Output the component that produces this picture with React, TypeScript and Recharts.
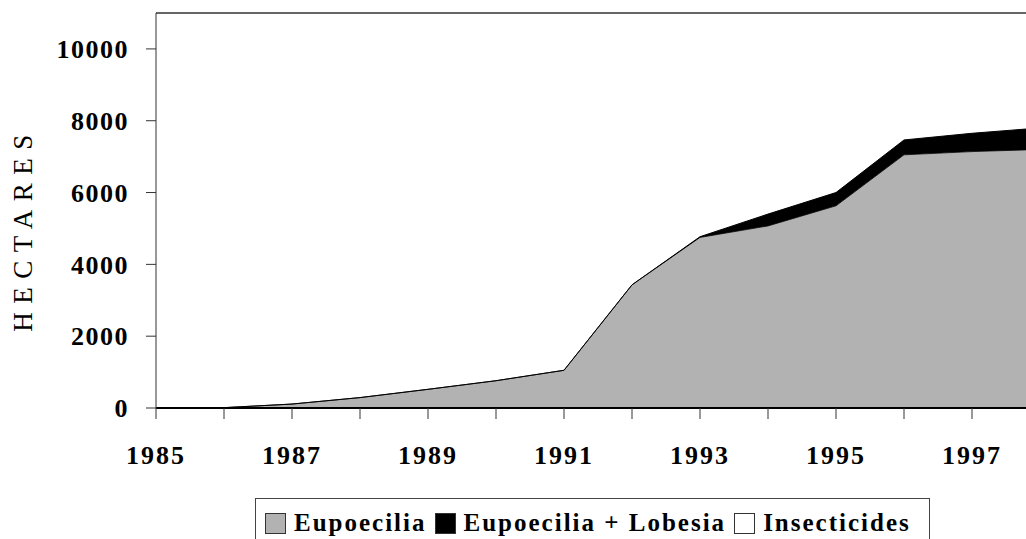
import { AreaChart, Area, XAxis, YAxis, ReferenceLine, Legend } from 'recharts';

const years = [1985, 1986, 1987, 1988, 1989, 1990, 1991, 1992, 1993, 1994, 1995, 1996, 1997, 1998];
const eupoecilia = [0, 10, 110, 290, 520, 760, 1050, 3430, 4750, 5070, 5630, 7050, 7140, 7200];
const eupoeciliaLobesia = [0, 0, 0, 0, 0, 0, 0, 0, 20, 330, 370, 415, 510, 600];
const insecticides = [0, 0, 0, 0, 0, 0, 0, 0, 0, 0, 0, 0, 0, 0];

const yTicks = [0, 2000, 4000, 6000, 8000, 10000];
const xTicks = years;
const labelYears = [1985, 1987, 1989, 1991, 1993, 1995, 1997];

const series = [
  { key: 'eupoecilia', name: 'Eupoecilia', fill: '#b2b2b2', stroke: '#333333' },
  { key: 'lobesia', name: 'Eupoecilia + Lobesia', fill: '#000000', stroke: '#000000' },
  { key: 'insecticides', name: 'Insecticides', fill: '#ffffff', stroke: 'none' },
];

const data = years.map((year, i) => ({
  year,
  eupoecilia: eupoecilia[i],
  lobesia: eupoeciliaLobesia[i],
  insecticides: insecticides[i],
}));

const FONT = '"Liberation Serif", "Times New Roman", serif';

function LegendBox() {
  return (
    <div
      style={{
        display: 'flex',
        alignItems: 'center',
        border: '1px solid #444',
        padding: '10px 10px 10px 9px',
        fontFamily: FONT,
        fontWeight: 'bold',
        fontSize: 25,
        letterSpacing: 2,
        color: '#000',
        background: '#fff',
        whiteSpace: 'nowrap',
      }}
    >
      {series.map((s) => (
        <span key={s.key} style={{ display: 'flex', alignItems: 'center', marginRight: 8 }}>
          <span
            style={{
              display: 'inline-block',
              width: 19,
              height: 19,
              background: s.fill,
              border: '1px solid #333',
              marginRight: 8,
            }}
          />
          {s.name}
        </span>
      ))}
    </div>
  );
}

export default function App() {
  return (
    <div style={{ position: 'absolute', left: 0, top: 0, width: 1026, height: 539, overflow: 'hidden', background: '#fff' }}>
      <AreaChart width={1050} height={539} data={data} margin={{ top: 13, right: 10, left: 0, bottom: 0 }}>
        <XAxis
          dataKey="year"
          type="number"
          domain={[1985, 1998]}
          ticks={xTicks}
          interval={0}
          tickFormatter={(v) => (labelYears.includes(v) ? String(v) : '')}
          height={131}
          tickSize={11}
          tickMargin={27}
          axisLine={{ stroke: '#000', strokeWidth: 2 }}
          tickLine={{ stroke: '#333' }}
          tick={{ fill: '#000', fontFamily: FONT, fontWeight: 'bold', fontSize: 26, letterSpacing: 2 }}
        />
        <YAxis
          type="number"
          domain={[0, 11000]}
          ticks={yTicks}
          interval={0}
          width={156}
          tickSize={10}
          tickMargin={17}
          axisLine={{ stroke: '#333' }}
          tickLine={{ stroke: '#333' }}
          tick={{ fill: '#000', fontFamily: FONT, fontWeight: 'bold', fontSize: 26, letterSpacing: 1.5 }}
          label={() => (
            <text
              x={23}
              y={229}
              transform="rotate(-90, 23, 229)"
              textAnchor="middle"
              dominantBaseline="central"
              fontFamily={FONT}
              fontSize={27}
              letterSpacing={8.5}
              fill="#000"
            >
              HECTARES
            </text>
          )}
        />
        <ReferenceLine y={11000} stroke="#333" strokeWidth={1.5} ifOverflow="visible" />
        {series.map((s) => (
          <Area
            key={s.key}
            type="linear"
            dataKey={s.key}
            name={s.name}
            stackId="1"
            fill={s.fill}
            fillOpacity={1}
            stroke={s.stroke}
            strokeWidth={1}
            isAnimationActive={false}
            dot={false}
            activeDot={false}
          />
        ))}
        <Legend
          layout="horizontal"
          verticalAlign="middle"
          align="center"
          content={() => <LegendBox />}
          wrapperStyle={{ position: 'absolute', left: 255, top: 498, width: 'auto', bottom: 'auto' }}
        />
      </AreaChart>
    </div>
  );
}
